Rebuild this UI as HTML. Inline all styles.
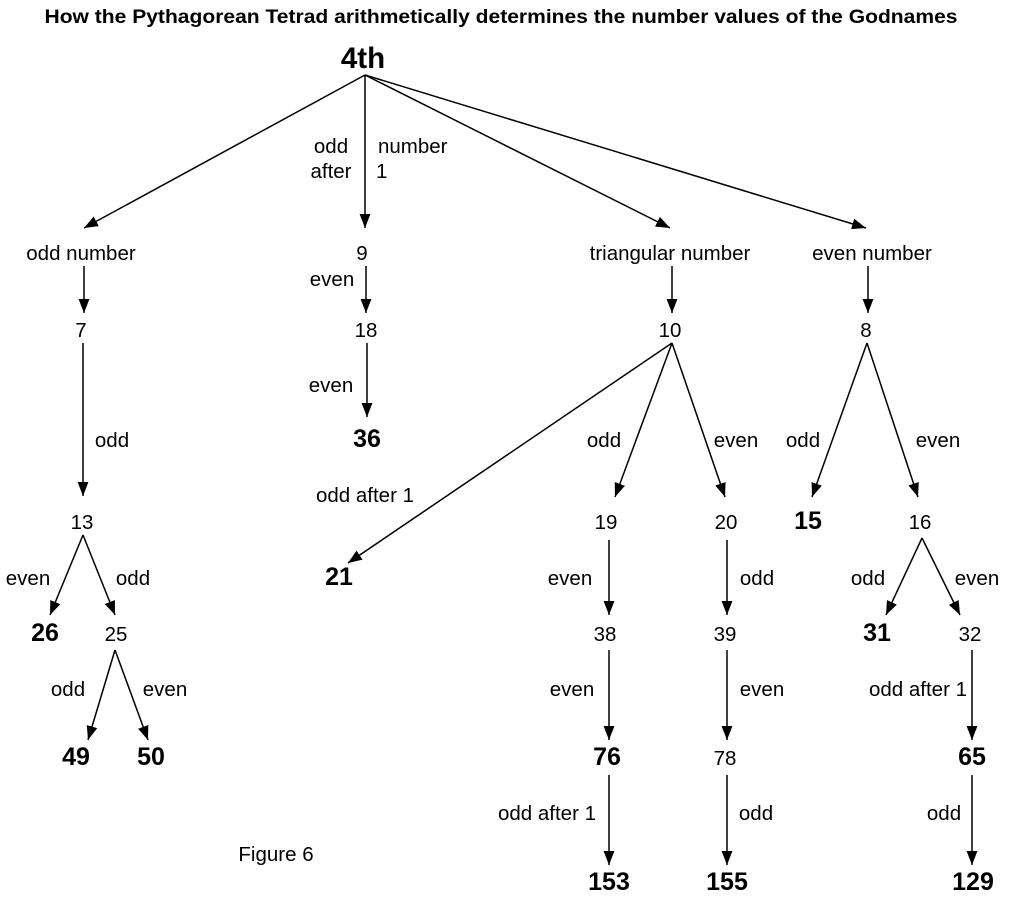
<!DOCTYPE html>
<html><head><meta charset="utf-8"><style>
html,body{margin:0;padding:0;background:#fff;}
svg{display:block;}
text{font-family:"Liberation Sans",Arial,sans-serif;fill:#000;}
.n{font-size:20.5px;text-anchor:middle;}
.b{font-size:25px;font-weight:bold;text-anchor:middle;}
</style></head><body>
<svg width="1019" height="904" viewBox="0 0 1019 904" xmlns="http://www.w3.org/2000/svg">
<defs><marker id="a" markerWidth="14" markerHeight="18" refX="18" refY="7" orient="auto" markerUnits="userSpaceOnUse" viewBox="0 0 18 14"><path d="M0,0 L18,7 L0,14 z" fill="#000"/></marker></defs>
<text x="501" y="23" font-size="19.5" font-weight="bold" text-anchor="middle" textLength="913" lengthAdjust="spacingAndGlyphs">How the Pythagorean Tetrad arithmetically determines the number values of the Godnames</text>
<text x="363" y="68" font-size="29.5" font-weight="bold" text-anchor="middle">4th</text>
<g stroke="#000" stroke-width="1.5" fill="none" marker-end="url(#a)">
<line x1="365" y1="75" x2="84" y2="228"/>
<line x1="365" y1="75" x2="365" y2="228"/>
<line x1="365" y1="75" x2="670" y2="228"/>
<line x1="365" y1="75" x2="866" y2="228"/>
<line x1="84" y1="266" x2="84" y2="313"/>
<line x1="83" y1="343" x2="83" y2="496"/>
<line x1="83" y1="535" x2="50" y2="615"/>
<line x1="83" y1="535" x2="115" y2="615"/>
<line x1="115" y1="650" x2="88" y2="740"/>
<line x1="115" y1="650" x2="148" y2="740"/>
<line x1="366" y1="266" x2="366" y2="313"/>
<line x1="367" y1="343" x2="367" y2="417"/>
<line x1="672" y1="266" x2="672" y2="313"/>
<line x1="672" y1="343" x2="348" y2="563"/>
<line x1="672" y1="343" x2="615" y2="497"/>
<line x1="672" y1="343" x2="725" y2="497"/>
<line x1="609" y1="540" x2="609" y2="615"/>
<line x1="727" y1="540" x2="727" y2="615"/>
<line x1="609" y1="650" x2="609" y2="740"/>
<line x1="727" y1="650" x2="727" y2="740"/>
<line x1="609" y1="775" x2="609" y2="865"/>
<line x1="727" y1="775" x2="727" y2="865"/>
<line x1="868" y1="266" x2="868" y2="313"/>
<line x1="867" y1="343" x2="812" y2="497"/>
<line x1="867" y1="343" x2="918" y2="497"/>
<line x1="922" y1="538" x2="886" y2="615"/>
<line x1="922" y1="538" x2="960" y2="615"/>
<line x1="972" y1="650" x2="972" y2="740"/>
<line x1="972" y1="775" x2="972" y2="865"/>
</g>
<text class="n" x="331" y="153">odd</text>
<text class="n" x="331" y="178">after</text>
<text x="378" y="153" font-size="20.5">number</text>
<text x="376" y="178" font-size="20.5">1</text>
<text class="n" x="81" y="260">odd number</text>
<text class="n" x="362" y="260">9</text>
<text class="n" x="670" y="260">triangular number</text>
<text class="n" x="872" y="260">even number</text>
<text class="n" x="81" y="337">7</text>
<text class="n" x="332" y="286">even</text>
<text class="n" x="366" y="337">18</text>
<text class="n" x="670" y="337">10</text>
<text class="n" x="866" y="337">8</text>
<text class="n" x="112" y="447">odd</text>
<text class="n" x="331" y="392">even</text>
<text class="b" x="367" y="447">36</text>
<text class="n" x="604" y="447">odd</text>
<text class="n" x="736" y="447">even</text>
<text class="n" x="803" y="447">odd</text>
<text class="n" x="938" y="447">even</text>
<text class="n" x="365" y="502">odd after 1</text>
<text class="n" x="82" y="529">13</text>
<text class="n" x="606" y="529">19</text>
<text class="n" x="726" y="529">20</text>
<text class="b" x="808" y="529">15</text>
<text class="n" x="920" y="529">16</text>
<text class="n" x="28" y="585">even</text>
<text class="n" x="133" y="585">odd</text>
<text class="b" x="339" y="585">21</text>
<text class="n" x="570" y="585">even</text>
<text class="n" x="757" y="585">odd</text>
<text class="n" x="868" y="585">odd</text>
<text class="n" x="977" y="585">even</text>
<text class="b" x="45" y="641">26</text>
<text class="n" x="116" y="641">25</text>
<text class="n" x="605" y="641">38</text>
<text class="n" x="725" y="641">39</text>
<text class="b" x="877" y="641">31</text>
<text class="n" x="970" y="641">32</text>
<text class="n" x="68" y="696">odd</text>
<text class="n" x="165" y="696">even</text>
<text class="n" x="572" y="696">even</text>
<text class="n" x="762" y="696">even</text>
<text class="n" x="918" y="696">odd after 1</text>
<text class="b" x="76" y="765">49</text>
<text class="b" x="151" y="765">50</text>
<text class="b" x="607" y="765">76</text>
<text class="n" x="725" y="765">78</text>
<text class="b" x="972" y="765">65</text>
<text class="n" x="547" y="820">odd after 1</text>
<text class="n" x="756" y="820">odd</text>
<text class="n" x="944" y="820">odd</text>
<text class="n" x="276" y="861">Figure 6</text>
<text class="b" x="609" y="890">153</text>
<text class="b" x="727" y="890">155</text>
<text class="b" x="973" y="890">129</text>
</svg>
</body></html>
